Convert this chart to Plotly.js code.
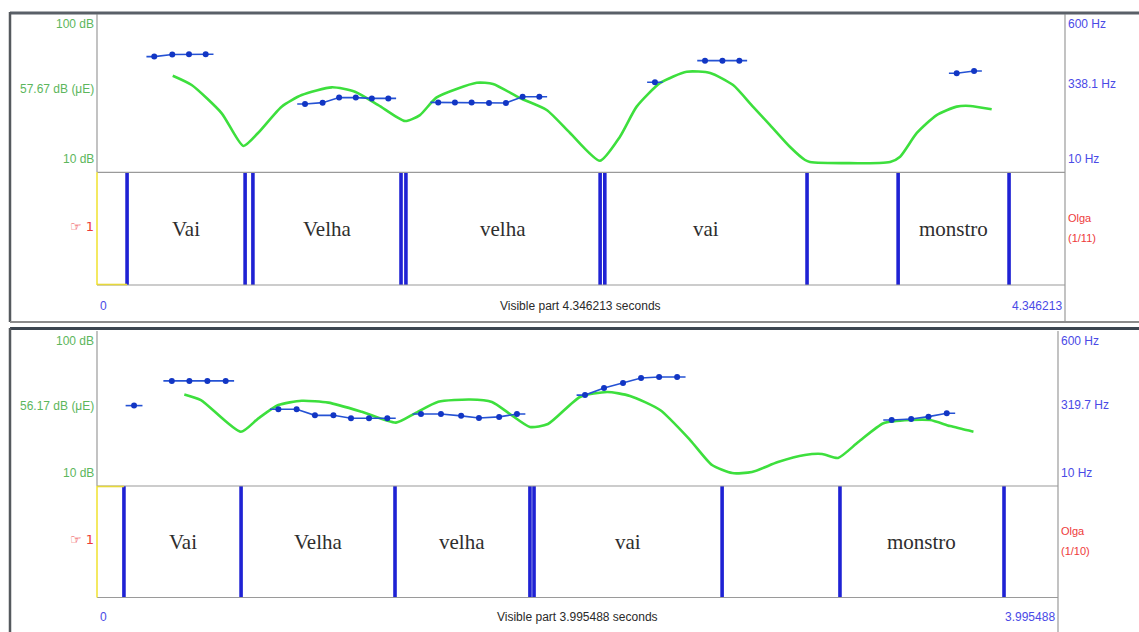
<!DOCTYPE html>
<html>
<head>
<meta charset="utf-8">
<script src="https://cdn.plot.ly/plotly-3.0.1.min.js"></script>
<style>
  html, body { margin: 0; padding: 0; background: #ffffff; }
  #chart { width: 1139px; height: 632px; }
</style>
</head>
<body>
<div id="chart"></div>
<script>
// ---------- Upper recording: Olga, utterance 1 of 11 ----------
const topDuration = 4.346213;
const topIntT  = [0.340, 0.425, 0.560, 0.657, 0.723, 0.829, 0.919, 1.054, 1.158, 1.263, 1.383, 1.450, 1.525,
                  1.705, 1.778, 1.899, 2.019, 2.124, 2.258, 2.348, 2.423, 2.529, 2.648, 2.753, 2.856, 2.945,
                  3.022, 3.112, 3.179, 3.201, 3.561, 3.606, 3.681, 3.770, 3.860, 3.920, 4.017];
const topIntDb = [65.0, 59.7, 43.6, 25.0, 32.4, 47.4, 54.0, 58.4, 55.9, 48.3, 39.2, 42.6, 52.7,
                  61.0, 60.3, 52.3, 45.5, 32.4, 16.6, 30.3, 47.4, 60.9, 67.3, 66.6, 59.7, 47.4,
                  36.9, 24.4, 17.0, 15.9, 15.9, 18.9, 32.4, 42.6, 47.4, 47.8, 45.9];
const topPitchT  = [[0.257, 0.338, 0.413, 0.488],
                    [0.934, 1.013, 1.087, 1.162, 1.234, 1.308],
                    [1.532, 1.607, 1.682, 1.760, 1.836, 1.911, 1.986],
                    [2.505],
                    [2.730, 2.808, 2.884],
                    [3.860, 3.938]];
const topPitchHz = [[442, 450, 451, 451],
                    [265, 270, 289, 289, 286, 286],
                    [271, 271, 271, 269, 269, 292, 292],
                    [346],
                    [427, 427, 427],
                    [380, 388]];
const topWords     = ["Vai", "Velha", "velha", "vai", "monstro"];
const topWordStart = [0.135, 0.700, 1.387, 2.280, 3.597];
const topWordEnd   = [0.665, 1.365, 2.259, 3.188, 4.095];
const topDbMarks   = [100, 57.67, 10];
const topHzMarks   = [600, 338.1, 10];
const topUtterance = "(1/11)";

// ---------- Lower recording: Olga, utterance 1 of 10 ----------
const botDuration = 3.995488;
const botIntT  = [0.363, 0.432, 0.598, 0.671, 0.754, 0.851, 0.962, 1.101, 1.243, 1.322, 1.419, 1.551, 1.642,
                  1.717, 1.800, 1.875, 2.008, 2.121, 2.216, 2.341, 2.466, 2.557, 2.641, 2.723, 2.831, 2.943,
                  3.015, 3.081, 3.165, 3.270, 3.380, 3.464, 3.547, 3.644];
const botIntDb = [63.2, 59.9, 41.5, 49.3, 57.0, 59.5, 58.4, 53.1, 46.8, 52.2, 58.9, 60.2, 58.8,
                  51.8, 44.3, 46.0, 61.7, 64.6, 62.3, 54.1, 36.7, 22.2, 17.5, 18.1, 23.9, 28.0,
                  28.6, 26.3, 35.5, 46.4, 48.3, 48.3, 44.8, 41.5];
const botPitchT  = [[0.154],
                    [0.311, 0.384, 0.459, 0.535],
                    [0.754, 0.830, 0.906, 0.983, 1.056, 1.131, 1.207],
                    [1.347, 1.430, 1.514, 1.588, 1.672, 1.746],
                    [2.029, 2.108, 2.187, 2.262, 2.337, 2.412],
                    [3.304, 3.385, 3.457, 3.533]];
const botPitchHz = [[316],
                    [410, 410, 410, 410],
                    [302, 302, 279, 279, 268, 268, 268],
                    [284, 284, 277, 269, 273, 284],
                    [356, 383, 402, 421, 425, 425],
                    [261, 265, 274, 287]];
const botWords     = ["Vai", "Velha", "velha", "vai", "monstro"];
const botWordStart = [0.112, 0.599, 1.239, 1.817, 3.089];
const botWordEnd   = [0.599, 1.239, 1.800, 2.599, 3.771];
const botDbMarks   = [100, 56.17, 10];
const botHzMarks   = [600, 319.7, 10];
const botUtterance = "(1/10)";

const speaker = "Olga";
const tierNumber = 1;

// ---------- drawing ----------
const W = 1139, H = 632;
const px = x => x / W;
const py = y => 1 - y / H;

const GREEN_TXT = "#5cb65c";
const BLUE_TXT = "#4a4ae6";
const RED_TXT = "#ee3a3a";
const SANS = "Liberation Sans, Arial, sans-serif";
const SERIF = "Liberation Serif, Times New Roman, serif";
const halfFrame = 0.035;   // pitch frame half-width in seconds

const traces = [];
const shapes = [];
const annotations = [];
const layout = {
  width: W, height: H,
  margin: { l: 0, r: 0, t: 0, b: 0, pad: 0 },
  paper_bgcolor: "#ffffff",
  plot_bgcolor: "rgba(0,0,0,0)",
  showlegend: false,
  shapes: shapes,
  annotations: annotations
};

function hline(x0, x1, y, color, width) {
  shapes.push({ type: "line", xref: "paper", yref: "paper", x0: px(x0), x1: px(x1), y0: py(y), y1: py(y),
                line: { color: color, width: width } });
}
function vline(x, y0, y1, color, width) {
  shapes.push({ type: "line", xref: "paper", yref: "paper", x0: px(x), x1: px(x), y0: py(y0), y1: py(y1),
                line: { color: color, width: width } });
}

function panel(d, g, ids) {
  const [xa, yDb, yHz, yTier] = ids;
  const n = xa === "x" ? "" : xa.slice(1);
  const xDom = [px(g.left), px(g.right)];
  layout["xaxis" + n] = { domain: xDom, range: [0, d.duration], visible: false, fixedrange: true, anchor: yDb };
  layout["yaxis" + yDb.slice(1)] = { domain: [py(g.pitchBottom), py(g.pitchTop)], range: [10, 100],
                                     visible: false, fixedrange: true, anchor: xa };
  layout["yaxis" + yHz.slice(1)] = { overlaying: yDb, range: [10, 600], visible: false, fixedrange: true,
                                     anchor: xa, side: "right" };
  layout["yaxis" + yTier.slice(1)] = { domain: [py(g.tierBottom), py(g.pitchBottom)], range: [0, 1],
                                       visible: false, fixedrange: true, anchor: xa };

  // intensity contour
  traces.push({ type: "scatter", mode: "lines", x: d.intT, y: d.intDb, xaxis: xa, yaxis: yDb,
                line: { color: "#3ddf3d", width: 2.6, shape: "spline", smoothing: 0.6 }, hoverinfo: "skip" });

  // pitch segments
  d.pitchT.forEach((seg, i) => {
    const hz = d.pitchHz[i];
    traces.push({ type: "scatter", mode: "lines",
                  x: [seg[0] - halfFrame, ...seg, seg[seg.length - 1] + halfFrame],
                  y: [hz[0], ...hz, hz[hz.length - 1]],
                  xaxis: xa, yaxis: yHz, line: { color: "#2552d4", width: 1.6 }, hoverinfo: "skip" });
    traces.push({ type: "scatter", mode: "markers", x: seg, y: hz, xaxis: xa, yaxis: yHz,
                  marker: { color: "#1236c4", size: 6 }, hoverinfo: "skip" });
  });

  // interval boundaries
  const bounds = Array.from(new Set([...d.start, ...d.end])).sort((a, b) => a - b);
  const bx = [], by = [];
  bounds.forEach(b => { bx.push(b, b, null); by.push(0, 1, null); });
  traces.push({ type: "scatter", mode: "lines", x: bx, y: by, xaxis: xa, yaxis: yTier,
                line: { color: "#1f22d4", width: 3.6 }, hoverinfo: "skip", cliponaxis: false });

  // interval labels
  d.words.forEach((w, i) => {
    annotations.push({ xref: xa, yref: yTier, x: (d.start[i] + d.end[i]) / 2, y: 0.5, text: w,
                       showarrow: false, font: { family: SERIF, size: 21, color: "#2e2e2e" } });
  });

  // box lines
  vline(g.left, g.pitchTop, g.pitchBottom, "#9a9a9a", 1.2);
  hline(g.left, g.right, g.pitchBottom, "#9a9a9a", 1.2);
  hline(g.left, g.right, g.tierBottom, "#9a9a9a", 1.2);
  vline(g.right, g.pitchTop, g.frameBottom, "#9a9a9a", 1.2);
  vline(g.left, g.pitchBottom, g.tierBottom, "#f2e43a", 1.6);
  shapes.push({ type: "line", xref: xa, yref: "paper", x0: 0, x1: d.start[0],
                y0: py(g.yellowY), y1: py(g.yellowY), line: { color: "#e6d83a", width: 1.6 } });

  // dB labels (left)
  const anchorsY = ["top", "middle", "bottom"];
  const shifts = [-1, 0, 4];
  d.dbMarks.forEach((v, i) => {
    annotations.push({ xref: "paper", yref: yDb, x: px(g.left - 1), y: v, xanchor: "right", yanchor: anchorsY[i],
                       yshift: shifts[i], text: v + " dB" + (i === 1 ? " (μE)" : ""), showarrow: false,
                       font: { family: SANS, size: 12, color: GREEN_TXT } });
  });
  // Hz labels (right)
  d.hzMarks.forEach((v, i) => {
    annotations.push({ xref: "paper", yref: yHz, x: px(g.right + 1), y: v, xanchor: "left", yanchor: anchorsY[i],
                       yshift: shifts[i], text: v + " Hz", showarrow: false,
                       font: { family: SANS, size: 12, color: BLUE_TXT } });
  });

  // tier name
  const tierMid = (g.pitchBottom + g.tierBottom) / 2;
  annotations.push({ xref: "paper", yref: "paper", x: px(g.left - 1), y: py(tierMid - 2), xanchor: "right",
                     yanchor: "middle", text: "☞ " + tierNumber, showarrow: false,
                     font: { family: "DejaVu Sans, sans-serif", size: 13, color: RED_TXT } });
  annotations.push({ xref: "paper", yref: "paper", x: px(g.right + 1), y: py(tierMid - 11), xanchor: "left",
                     yanchor: "middle", text: speaker, showarrow: false,
                     font: { family: SANS, size: 11, color: RED_TXT } });
  annotations.push({ xref: "paper", yref: "paper", x: px(g.right + 1), y: py(tierMid + 9), xanchor: "left",
                     yanchor: "middle", text: d.utterance, showarrow: false,
                     font: { family: SANS, size: 11, color: RED_TXT } });

  // time axis labels
  annotations.push({ xref: xa, yref: "paper", x: 0, y: py(g.labelY), xanchor: "left", yanchor: "middle",
                     xshift: 1, text: "0", showarrow: false, font: { family: SANS, size: 12, color: BLUE_TXT } });
  annotations.push({ xref: xa, yref: "paper", x: d.duration, y: py(g.labelY), xanchor: "right", yanchor: "middle",
                     xshift: -1, text: String(d.duration), showarrow: false,
                     font: { family: SANS, size: 12, color: BLUE_TXT } });
  annotations.push({ xref: "paper", yref: "paper", x: (xDom[0] + xDom[1]) / 2, y: py(g.labelY),
                     xanchor: "center", yanchor: "middle",
                     text: "Visible part " + d.duration + " seconds", showarrow: false,
                     font: { family: SANS, size: 12, color: "#2a2a2a" } });
}

panel({ duration: topDuration, intT: topIntT, intDb: topIntDb, pitchT: topPitchT, pitchHz: topPitchHz,
        words: topWords, start: topWordStart, end: topWordEnd, dbMarks: topDbMarks, hzMarks: topHzMarks,
        utterance: topUtterance },
      { left: 97, right: 1065, pitchTop: 14.3, pitchBottom: 172.3, tierBottom: 285, frameBottom: 322,
        labelY: 306, yellowY: 284.5 },
      ["x", "y", "y2", "y3"]);

panel({ duration: botDuration, intT: botIntT, intDb: botIntDb, pitchT: botPitchT, pitchHz: botPitchHz,
        words: botWords, start: botWordStart, end: botWordEnd, dbMarks: botDbMarks, hzMarks: botHzMarks,
        utterance: botUtterance },
      { left: 97, right: 1058, pitchTop: 331, pitchBottom: 486, tierBottom: 597.5, frameBottom: 632,
        labelY: 617, yellowY: 486.5 },
      ["x2", "y4", "y5", "y6"]);

// window frames
hline(10, W, 13, "#5a6068", 3);
vline(10, 12, 322, "#55595e", 2.5);
hline(10, W, 322, "#8c8c8c", 2);
hline(10, W, 328.5, "#3c4650", 3);
vline(10, 328, H, "#55595e", 2.5);

Plotly.newPlot("chart", traces, layout, { staticPlot: true, displayModeBar: false });
</script>
</body>
</html>
